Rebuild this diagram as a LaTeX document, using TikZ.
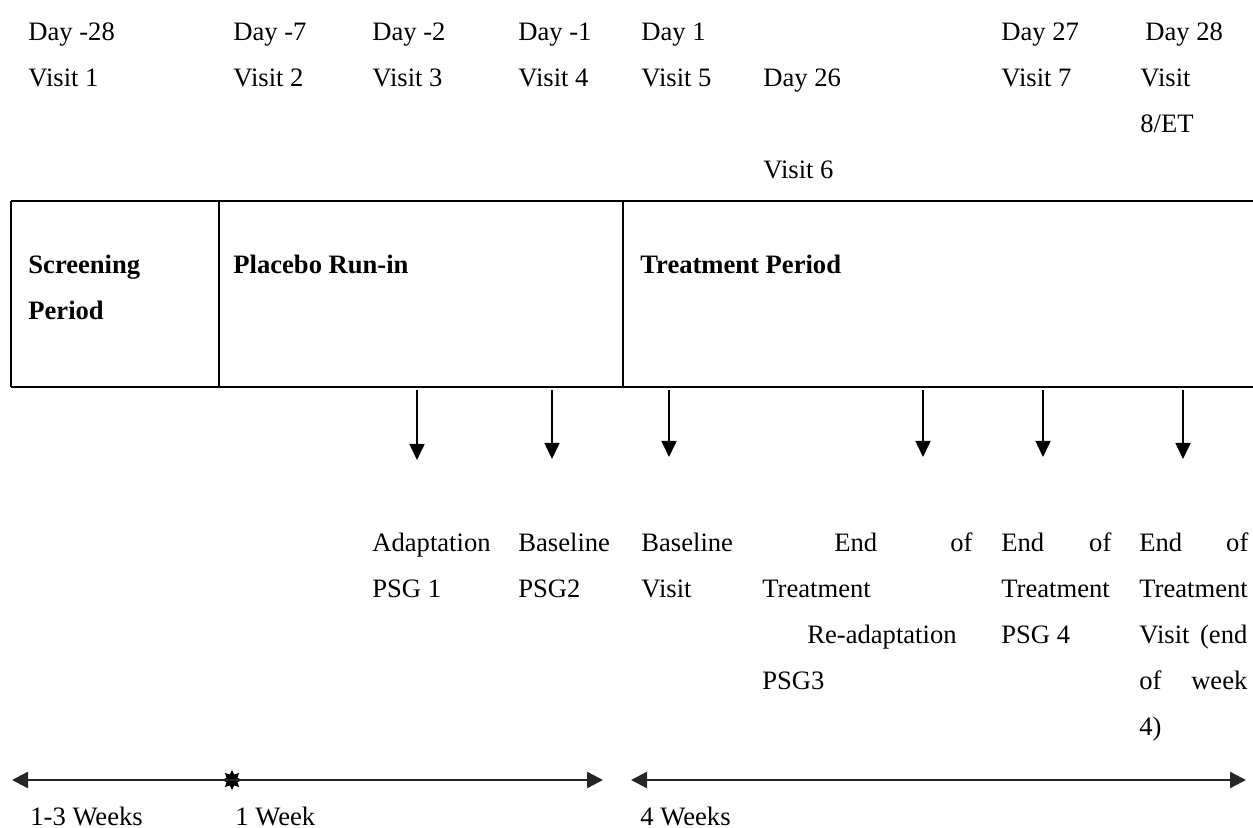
\documentclass[tikz,border=0pt]{standalone}
\usepackage{fontspec}
\setmainfont{Liberation Serif}
\usetikzlibrary{arrows.meta,shapes.geometric}
\begin{document}
\begin{tikzpicture}[x=0.5pt,y=-0.5pt,
  lbl/.style={anchor=base west,inner sep=0pt,font=\fontsize{13.3}{23}\selectfont},
  hdr/.style={anchor=base west,inner sep=0pt,font=\fontsize{13.3}{23}\selectfont\bfseries},
  boxline/.style={line width=1pt},
  down/.style={line width=0.8pt,-{Triangle[length=8pt,width=7.5pt]}},
  span/.style={line width=1.2pt,draw=black!85}]
\useasboundingbox (0,0) rectangle (1253,828);

% top labels
\node[lbl] (d1) at (28,41) {Day -28};
\node[lbl] (v1) at (28,87) {Visit 1};
\node[lbl] (d2) at (233,41) {Day -7};
\node[lbl] (v2) at (233,87) {Visit 2};
\node[lbl] (d3) at (372,41) {Day -2};
\node[lbl] (v3) at (372,87) {Visit 3};
\node[lbl] (d4) at (518,41) {Day -1};
\node[lbl] (v4) at (518,87) {Visit 4};
\node[lbl] (d5) at (641,41) {Day 1};
\node[lbl] (v5) at (641,87) {Visit 5};
\node[lbl] (d6) at (763,87) {Day 26};
\node[lbl] (v6) at (763,179) {Visit 6};
\node[lbl] (d7) at (1001,41) {Day 27};
\node[lbl] (v7) at (1001,87) {Visit 7};
\node[lbl] (d8) at (1145,41) {Day 28};
\node[lbl] (v8a) at (1140,87) {Visit};
\node[lbl] (v8b) at (1140,133) {8/ET};

% period box
\draw[boxline] (11,201) -- (1253,201);
\draw[boxline] (11,387) -- (1253,387);
\draw[boxline] (11,201) -- (11,387);
\draw[boxline] (219,201) -- (219,387);
\draw[boxline] (623,201) -- (623,387);
\node[hdr] (scr1) at (28,274) {Screening};
\node[hdr] (scr2) at (28,320) {Period};
\node[hdr] (plc) at (233,274) {Placebo Run-in};
\node[hdr] (trt) at (640,274) {Treatment Period};

% event arrows
\coordinate (s1) at (417,390); \coordinate (e1) at (417,460);
\coordinate (s2) at (552,390); \coordinate (e2) at (552,459);
\coordinate (s3) at (669,390); \coordinate (e3) at (669,457);
\coordinate (s4) at (923,390); \coordinate (e4) at (923,457);
\coordinate (s5) at (1043,390); \coordinate (e5) at (1043,457);
\coordinate (s6) at (1183,390); \coordinate (e6) at (1183,459);
\draw[down] (s1) -- (e1);
\draw[down] (s2) -- (e2);
\draw[down] (s3) -- (e3);
\draw[down] (s4) -- (e4);
\draw[down] (s5) -- (e5);
\draw[down] (s6) -- (e6);

% event labels
\node[lbl] (a1) at (372,551) {Adaptation};
\node[lbl] (a2) at (372,597) {PSG 1};
\node[lbl] (b1) at (518,551) {Baseline};
\node[lbl] (b2) at (518,597) {PSG2};
\node[lbl] (c1) at (641,551) {Baseline};
\node[lbl] (c2) at (641,597) {Visit};
\node[lbl] (f1) at (834,551) {\makebox[69pt][s]{End\hfill of}};
\node[lbl] (f2) at (762,597) {Treatment};
\node[lbl] (f3) at (807,643) {Re-adaptation};
\node[lbl] (f4) at (762,689) {PSG3};
\node[lbl] (g1) at (1001,551) {\makebox[55pt][s]{End\hfill of}};
\node[lbl] (g2) at (1001,597) {Treatment};
\node[lbl] (g3) at (1001,643) {PSG 4};
\node[lbl] (h1) at (1139,551) {\makebox[54.5pt][s]{End\hfill of}};
\node[lbl] (h2) at (1139,597) {Treatment};
\node[lbl] (h3) at (1139,643) {\makebox[54pt][s]{Visit\hfill (end}};
\node[lbl] (h4) at (1139,689) {\makebox[54pt][s]{of\hfill week}};
\node[lbl] (h5) at (1139,735) {4)};

% duration arrows
\coordinate (t0) at (12,780);
\coordinate (t2) at (603,780);
\coordinate (t3) at (631,780);
\coordinate (t4) at (1246,780);
\node[star,star points=8,star point ratio=1.7,fill=black,inner sep=0pt,minimum size=10pt] (mid) at (232,780) {};
\draw[span,{Triangle[length=8pt,width=8pt]}-] (t0) -- (mid.center);
\draw[span,-{Triangle[length=8pt,width=8pt]}] (mid.center) -- (t2);
\draw[span,{Triangle[length=8pt,width=8pt]}-{Triangle[length=8pt,width=8pt]}] (t3) -- (t4);
\node[lbl] (w1) at (30,825) {1-3 Weeks};
\node[lbl] (w2) at (235,825) {1 Week};
\node[lbl] (w3) at (640,825) {4 Weeks};
\end{tikzpicture}
\end{document}
